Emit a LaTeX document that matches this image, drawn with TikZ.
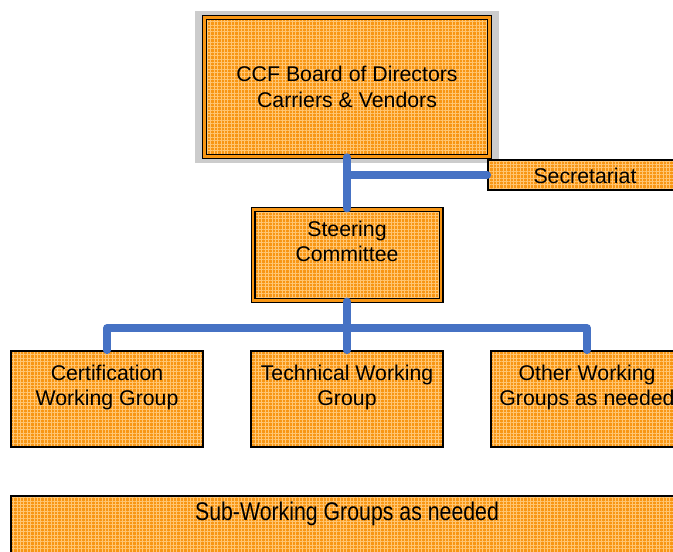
\documentclass[tikz,border=0pt]{standalone}
\usepackage{fontspec}
\setmainfont{Liberation Sans}
\usetikzlibrary{patterns.meta}
\definecolor{boxorange}{RGB}{248,150,20}
\definecolor{gridlight}{RGB}{255,198,115}
\definecolor{connblue}{RGB}{70,114,196}
\definecolor{shadowgray}{RGB}{204,204,204}
\tikzset{
  orgbox/.style={rectangle, draw=black, line width=1.4pt, inner sep=0pt,
    preaction={fill=boxorange},
    pattern={Hatch[angle=0,distance=3.4pt,line width=0.7pt]}, pattern color=gridlight},
  dblbox/.style={orgbox, double=boxorange, double distance=2.6pt, line width=1.2pt},
  lbl/.style={inner sep=0pt, align=center, font=\fontsize{21.3}{25.5}\selectfont},
  conn/.style={draw=connblue, line width=7.5pt, line cap=round, line join=round}
}
\begin{document}
\begin{tikzpicture}[x=1pt,y=-1pt]
\clip (0,0) rectangle (673,552);
\fill[white] (0,0) rectangle (673,552);
% shadow behind board
\fill[shadowgray] (195,11) rectangle (499,163);
% boxes
\node[dblbox, minimum width=284.5pt, minimum height=139pt] (board) at (347,87) {};
\node[orgbox, minimum width=194pt, minimum height=30pt] (sec) at (585,175) {};
\node[dblbox, minimum width=188pt, minimum height=91.5pt] (steer) at (347,255) {};
\node[orgbox, minimum width=192pt, minimum height=96pt] (cert) at (107,399) {};
\node[orgbox, minimum width=192pt, minimum height=96pt] (tech) at (347,399) {};
\node[orgbox, minimum width=192pt, minimum height=96pt] (other) at (587,399) {};
\node[orgbox, minimum width=680pt, minimum height=100pt] (sub) at (351,546) {};
% labels
\node[lbl] (boardtxt) at (347,87) {CCF Board of Directors\\Carriers \& Vendors};
\node[lbl] (sectxt) at (585,175.5) {Secretariat};
\node[lbl] (steertxt) at (347,241.5) {Steering\\Committee};
\node[lbl] (certtxt) at (107,387.5) {Certification\\Working Group};
\node[lbl] (techtxt) at (347,387.5) {Technical Working\\Group};
\node[lbl] (othertxt) at (587,387.5) {Other Working\\Groups as needed};
\node[lbl] (subtxt) at (347,514) {\scalebox{1}[1.2]{Sub-Working Groups as needed}};
% connectors
\coordinate (bus) at (347,328);
\draw[conn] (board.south) -- (steer.north);
\draw[conn] (board.south |- sec.west) -- (sec.west);
\draw[conn] (steer.south) -- (tech.north);
\draw[conn] (cert.north) |- (bus) -| (other.north);
\end{tikzpicture}
\end{document}
